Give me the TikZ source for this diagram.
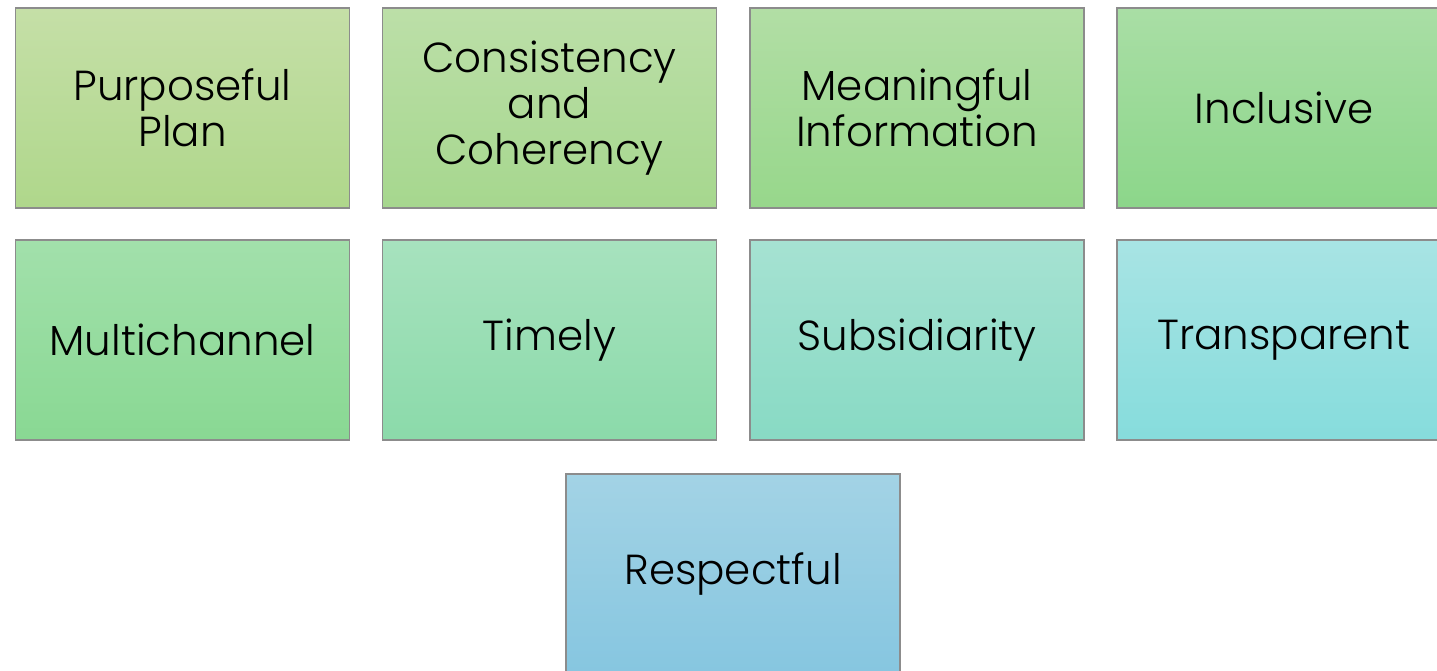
\documentclass[tikz,border=0pt]{standalone}
\usepackage{fontspec}
\setmainfont{Poppins}[UprightFont=* Light]
\usepackage{xcolor}

\definecolor{pptop}{HTML}{C5DFA7}\definecolor{ppbot}{HTML}{AFD78B}
\definecolor{cctop}{HTML}{BCDFA8}\definecolor{ccbot}{HTML}{A6D78E}
\definecolor{mitop}{HTML}{B2DEA5}\definecolor{mibot}{HTML}{97D78B}
\definecolor{intop}{HTML}{A9DEA5}\definecolor{inbot}{HTML}{8CD68A}
\definecolor{mctop}{HTML}{A2E0AB}\definecolor{mcbot}{HTML}{89D893}
\definecolor{tmtop}{HTML}{A7E2BE}\definecolor{tmbot}{HTML}{8BDAAA}
\definecolor{sbtop}{HTML}{A6E2D2}\definecolor{sbbot}{HTML}{88DAC4}
\definecolor{trtop}{HTML}{A8E4E4}\definecolor{trbot}{HTML}{86DCDC}
\definecolor{rstop}{HTML}{A3D3E5}\definecolor{rsbot}{HTML}{86C6E0}

\tikzset{
  tile/.style={draw=black!45, line width=1.2pt, minimum width=334pt, minimum height=200pt,
    align=center, font=\fontsize{42}{46}\selectfont, inner sep=0pt},
}

\begin{document}
\begin{tikzpicture}[x=1pt, y=-1pt]
\useasboundingbox (0,0) rectangle (1437,671);

% first row
\node[tile, top color=pptop, bottom color=ppbot] (plan) at (182.5,108) {Purposeful\\Plan};
\node[tile, top color=cctop, bottom color=ccbot] (coherency) at (549.5,108) {Consistency\\and\\Coherency};
\node[tile, top color=mitop, bottom color=mibot] (info) at (917,108) {Meaningful\\Information};
\node[tile, top color=intop, bottom color=inbot] (inclusive) at (1284,108) {Inclusive};

% second row
\node[tile, top color=mctop, bottom color=mcbot] (multichannel) at (182.5,340) {Multichannel};
\node[tile, top color=tmtop, bottom color=tmbot] (timely) at (549.5,340) {Timely};
\node[tile, top color=sbtop, bottom color=sbbot] (subsidiarity) at (917,340) {Subsidiarity};
\node[tile, top color=trtop, bottom color=trbot] (transparent) at (1284,340) {Transparent};

% last one, alone
\node[tile, top color=rstop, bottom color=rsbot] (respectful) at (733,574) {Respectful};

\end{tikzpicture}
\end{document}
